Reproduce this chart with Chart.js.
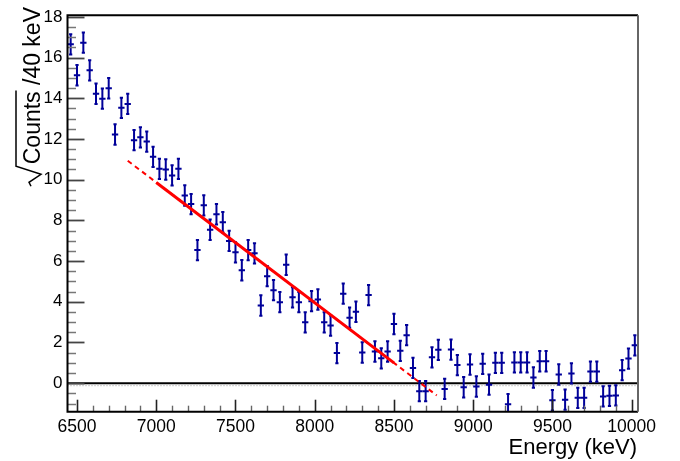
<!DOCTYPE html>
<html>
<head>
<meta charset="utf-8">
<script src="https://cdn.jsdelivr.net/npm/chart.js@4.4.1/dist/chart.umd.min.js"></script>
<style>
  html, body { margin: 0; padding: 0; background: #fff; }
  #wrap { width: 680px; height: 461px; position: relative; }
</style>
</head>
<body>
<div id="wrap"><canvas id="spectrum"></canvas></div>
<script>
// ── DATA ────────────────────────────────────────
// bin centres (keV), 40 keV bins
const energy = [
  6460, 6500, 6540, 6580, 6620, 6660, 6700, 6740, 6780, 6820,
  6860, 6900, 6940, 6980, 7020, 7060, 7100, 7140, 7180, 7220,
  7260, 7300, 7340, 7380, 7420, 7460, 7500, 7540, 7580, 7620,
  7660, 7700, 7740, 7780, 7820, 7860, 7900, 7940, 7980, 8020,
  8060, 8100, 8140, 8180, 8220, 8260, 8300, 8340, 8380, 8420,
  8460, 8500, 8540, 8580, 8620, 8660, 8700, 8740, 8780, 8820,
  8860, 8900, 8940, 8980, 9020, 9060, 9100, 9140, 9180, 9220,
  9260, 9300, 9340, 9380, 9420, 9460, 9500, 9540, 9580, 9620,
  9660, 9700, 9740, 9780, 9820, 9860, 9900, 9940, 9980, 10020
];
// sqrt(counts) per bin
const sqrtCounts = [
  16.65, 15.13, 16.73, 15.37, 14.22, 13.98, 14.49, 12.22, 13.53, 13.72,
  11.94, 12.08, 11.87, 11.12, 10.53, 10.50, 10.21, 10.53,  9.22,  8.80,
   6.54,  8.74,  7.54,  8.30,  7.91,  6.99,  6.43,  5.55,  6.54,  6.38,
   3.82,  5.26,  4.57,  3.98,  5.82,  4.22,  3.98,  2.99,  4.03,  4.11,
   2.99,  2.83,  1.48,  4.40,  3.22,  3.51,  1.51,  4.33,  1.56,  1.22,
   1.56,  2.91,  1.59,  2.36,  0.75, -0.39, -0.39,  1.27,  1.64, -0.28,
   1.65,  0.89, -0.20,  0.92, -0.16,  0.95, -0.07,  1.00,  1.00, -1.03,
   1.02,  1.02,  1.02,  0.28,  1.08,  1.08, -0.84,  0.43, -0.81,  0.48,
  -0.72, -0.72,  0.57,  0.57, -0.65, -0.62, -0.60,  0.64,  1.21,  1.86
];
const errY    = 0.5;   // error on sqrt(N)
const binHalf = 20;    // half bin width, keV

// linear fit: solid over fit range, dashed over extended range
const fitX = [7000, 8500];
const fitY = [9.86, 1.00];
const extX = [6820, 8770];
const extY = [10.93, -0.60];

// axes
const xMin = 6440, xMax = 10040;
const yMin = -1.4, yMax = 18.08;
const xTicks = [6500, 7000, 7500, 8000, 8500, 9000, 9500, 10000];
const yTicks = [0, 2, 4, 6, 8, 10, 12, 14, 16, 18];

const FONT = "'Liberation Sans', Arial, Helvetica, sans-serif";
const BLUE = '#000099';
const RED  = '#ff0000';

// ── ROOT-STYLE FRAME, TICKS, ERROR BARS ─────────
const rootStyle = {
  id: 'rootStyle',
  beforeDatasetsDraw(chart) {
    const { ctx, chartArea: a, scales: { x, y } } = chart;
    ctx.save();
    ctx.beginPath();
    ctx.rect(a.left, a.top, a.right - a.left, a.bottom - a.top);
    ctx.clip();

    // zero line
    const y0 = y.getPixelForValue(0);
    ctx.strokeStyle = '#000';
    ctx.lineWidth = 2;
    ctx.beginPath();
    ctx.moveTo(a.left, y0);
    ctx.lineTo(a.right, y0);
    ctx.stroke();
    ctx.strokeStyle = '#999';
    ctx.lineWidth = 1;
    ctx.setLineDash([1, 2]);
    ctx.beginPath();
    ctx.moveTo(a.left, y0 + 2.5);
    ctx.lineTo(a.right, y0 + 2.5);
    ctx.stroke();
    ctx.setLineDash([]);

    // data points with error bars
    ctx.strokeStyle = BLUE;
    ctx.lineWidth = 2;
    energy.forEach((e, i) => {
      const v  = sqrtCounts[i];
      const px = x.getPixelForValue(e);
      const py = y.getPixelForValue(v);
      const t  = y.getPixelForValue(v + errY);
      const b  = y.getPixelForValue(v - errY);
      const l  = x.getPixelForValue(e - binHalf);
      const r  = x.getPixelForValue(e + binHalf);
      ctx.beginPath();
      ctx.moveTo(l, py); ctx.lineTo(r, py);
      ctx.moveTo(px, t); ctx.lineTo(px, b);
      ctx.moveTo(px - 1.6, t); ctx.lineTo(px + 1.6, t);
      ctx.moveTo(px - 1.6, b); ctx.lineTo(px + 1.6, b);
      ctx.stroke();
    });
    ctx.restore();
  },
  afterDraw(chart) {
    const { ctx, chartArea: a, scales: { x, y } } = chart;
    ctx.save();

    // x ticks (inside, upward)
    for (let v = 6500; v <= 10000; v += 100) {
      const px = Math.round(x.getPixelForValue(v)) + 0.5;
      const major = v % 500 === 0;
      ctx.strokeStyle = major ? '#222' : '#666';
      ctx.lineWidth = major ? 1.6 : 1.4;
      ctx.beginPath();
      ctx.moveTo(px, a.bottom);
      ctx.lineTo(px, a.bottom - (major ? 12 : 6));
      ctx.stroke();
    }
    // y ticks (inside, rightward)
    for (let v = -1; v <= 18; v += 0.5) {
      const py = Math.round(y.getPixelForValue(v)) + 0.5;
      const major = Math.abs(v % 2) < 1e-6;
      ctx.strokeStyle = major ? '#444' : '#777';
      ctx.lineWidth = major ? 1.8 : 1.5;
      ctx.beginPath();
      ctx.moveTo(a.left, py);
      ctx.lineTo(a.left + (major ? 17 : 8.5), py);
      ctx.stroke();
    }

    // frame
    ctx.lineWidth = 2;
    ctx.strokeStyle = '#000';
    ctx.beginPath();
    ctx.moveTo(a.right, a.top);
    ctx.lineTo(a.left, a.top);
    ctx.lineTo(a.left, a.bottom);
    ctx.lineTo(a.right, a.bottom);
    ctx.stroke();
    ctx.strokeStyle = '#666';
    ctx.beginPath();
    ctx.moveTo(a.right, a.top);
    ctx.lineTo(a.right, a.bottom);
    ctx.stroke();

    // x title
    ctx.fillStyle = '#000';
    ctx.font = `22px ${FONT}`;
    ctx.textAlign = 'right';
    ctx.textBaseline = 'alphabetic';
    ctx.fillText('Energy (keV)', a.right - 1, 454);

    // y title with radical sign over "Counts"
    ctx.save();
    ctx.translate(40, 7);
    ctx.rotate(-Math.PI / 2);
    ctx.font = `23px ${FONT}`;
    ctx.textAlign = 'left';
    const tail = ' /40 keV';
    const head = 'Counts';
    const wTail = ctx.measureText(tail).width;
    const wHead = ctx.measureText(head).width;
    const start = -(wTail + wHead);
    ctx.fillText(head, start, 0);
    ctx.fillText(tail, start + wHead, 0);
    ctx.strokeStyle = '#000';
    ctx.lineWidth = 1.5;
    ctx.beginPath();
    ctx.moveTo(start - 22, -9);
    ctx.lineTo(start - 18, -11);
    ctx.lineTo(start - 10, 1);
    ctx.lineTo(start - 2, -24);
    ctx.lineTo(start + wHead + 1, -24);
    ctx.stroke();
    ctx.restore();

    ctx.restore();
  }
};

// ── CHART ───────────────────────────────────────
const points = energy.map((e, i) => ({ x: e, y: sqrtCounts[i] }));

new Chart(document.getElementById('spectrum'), {
  type: 'scatter',
  data: {
    datasets: [
      {
        label: 'fit',
        data: fitX.map((v, i) => ({ x: v, y: fitY[i] })),
        showLine: true,
        borderColor: RED,
        borderWidth: 3,
        pointRadius: 0,
        order: 1
      },
      {
        label: 'fit (extended)',
        data: extX.map((v, i) => ({ x: v, y: extY[i] })),
        showLine: true,
        borderColor: RED,
        borderWidth: 2,
        borderDash: [5, 4],
        pointRadius: 0,
        order: 2
      },
      {
        label: 'data',
        data: points,
        pointRadius: 0,
        order: 3
      }
    ]
  },
  options: {
    responsive: true,
    maintainAspectRatio: false,
    animation: false,
    layout: { padding: { top: 5, right: 42, left: 0, bottom: 0 } },
    plugins: { legend: { display: false }, tooltip: { enabled: false } },
    scales: {
      x: {
        type: 'linear',
        min: xMin, max: xMax,
        grid: { display: false, drawTicks: false },
        border: { display: false },
        afterBuildTicks: s => { s.ticks = xTicks.map(v => ({ value: v })); },
        afterFit: s => { s.height = 49.3; },
        ticks: {
          font: { family: FONT, size: 17.5 },
          color: '#000',
          padding: 5,
          maxRotation: 0,
          autoSkip: false,
          callback: v => String(v)
        }
      },
      y: {
        type: 'linear',
        min: yMin, max: yMax,
        grid: { display: false, drawTicks: false },
        border: { display: false },
        afterBuildTicks: s => { s.ticks = yTicks.map(v => ({ value: v })); },
        afterFit: s => { s.width = 67.5; },
        ticks: {
          font: { family: FONT, size: 17 },
          color: '#000',
          padding: 5,
          autoSkip: false,
          callback: v => String(v)
        }
      }
    }
  },
  plugins: [rootStyle]
});
</script>
</body>
</html>
